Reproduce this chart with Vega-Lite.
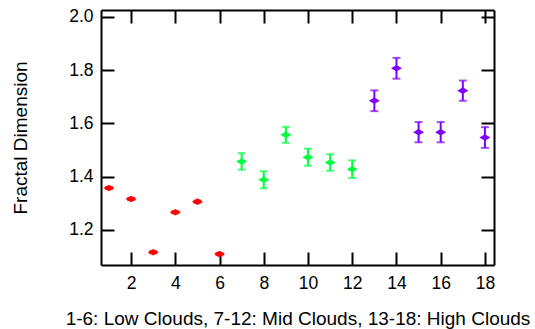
{
  "$schema": "https://vega.github.io/schema/vega-lite/v6.json",
  "autosize": "none",
  "width": 393,
  "height": 255,
  "padding": {"left": 101, "top": 10, "right": 41, "bottom": 64},
  "background": "white",
  "config": {
    "view": {"stroke": null},
    "font": "Liberation Sans",
    "axis": {
      "domainColor": "black", "domainWidth": 2, "tickColor": "black", "tickWidth": 2,
      "tickSize": -13, "grid": false, "labelFont": "Liberation Sans", "labelFontSize": 17.5,
      "labelColor": "black", "titleFont": "Liberation Sans", "titleFontSize": 19,
      "titleFontWeight": "normal", "titleColor": "black"
    }
  },
  "data": {"values": [
    {"cloud": 1, "fd": 1.357, "lo": 1.353, "hi": 1.361, "type": "Low"},
    {"cloud": 2, "fd": 1.316, "lo": 1.312, "hi": 1.320, "type": "Low"},
    {"cloud": 3, "fd": 1.116, "lo": 1.112, "hi": 1.120, "type": "Low"},
    {"cloud": 4, "fd": 1.266, "lo": 1.262, "hi": 1.270, "type": "Low"},
    {"cloud": 5, "fd": 1.306, "lo": 1.302, "hi": 1.310, "type": "Low"},
    {"cloud": 6, "fd": 1.109, "lo": 1.105, "hi": 1.113, "type": "Low"},
    {"cloud": 7, "fd": 1.457, "lo": 1.426, "hi": 1.488, "type": "Mid"},
    {"cloud": 8, "fd": 1.388, "lo": 1.356, "hi": 1.420, "type": "Mid"},
    {"cloud": 9, "fd": 1.557, "lo": 1.527, "hi": 1.587, "type": "Mid"},
    {"cloud": 10, "fd": 1.473, "lo": 1.441, "hi": 1.505, "type": "Mid"},
    {"cloud": 11, "fd": 1.453, "lo": 1.422, "hi": 1.484, "type": "Mid"},
    {"cloud": 12, "fd": 1.428, "lo": 1.395, "hi": 1.461, "type": "Mid"},
    {"cloud": 13, "fd": 1.685, "lo": 1.646, "hi": 1.724, "type": "High"},
    {"cloud": 14, "fd": 1.807, "lo": 1.768, "hi": 1.846, "type": "High"},
    {"cloud": 15, "fd": 1.567, "lo": 1.529, "hi": 1.605, "type": "High"},
    {"cloud": 16, "fd": 1.567, "lo": 1.529, "hi": 1.605, "type": "High"},
    {"cloud": 17, "fd": 1.723, "lo": 1.685, "hi": 1.761, "type": "High"},
    {"cloud": 18, "fd": 1.547, "lo": 1.508, "hi": 1.586, "type": "High"}
  ]},
  "resolve": {"axis": {"x": "independent", "y": "independent"}},
  "layer": [
    {
      "mark": {"type": "errorbar", "ticks": {"size": 8, "thickness": 2}, "rule": {"strokeWidth": 2}},
      "encoding": {
        "x": {"field": "cloud", "type": "quantitative",
              "scale": {"domain": [0.64, 18.41], "nice": false, "zero": false},
              "axis": {"values": [2,4,6,8,10,12,14,16,18], "labelPadding": 22,
                       "title": "1-6: Low Clouds, 7-12: Mid Clouds, 13-18: High Clouds",
                       "titleY": 59, "titleBaseline": "alphabetic"}},
        "y": {"field": "lo", "type": "quantitative",
              "scale": {"domain": [1.068, 2.026], "nice": false, "zero": false},
              "axis": {"values": [1.2,1.4,1.6,1.8,2.0], "format": ".1f", "labelPadding": 21,
                       "title": "Fractal Dimension", "titleX": -81, "titleBaseline": "middle"}},
        "y2": {"field": "hi"},
        "color": {"field": "type", "type": "nominal",
                  "scale": {"domain": ["Low", "Mid", "High"], "range": ["#ff0000", "#00ff40", "#8000ff"]},
                  "legend": null}
      }
    },
    {
      "mark": {"type": "point", "filled": true, "opacity": 1, "size": 121,
               "shape": "M-1,0L0,-0.6L1,0L0,0.6Z"},
      "encoding": {
        "x": {"field": "cloud", "type": "quantitative", "axis": null},
        "y": {"field": "fd", "type": "quantitative", "axis": null},
        "color": {"field": "type", "type": "nominal", "legend": null}
      }
    },
    {
      "mark": {"type": "point", "opacity": 0},
      "encoding": {
        "x": {"field": "cloud", "type": "quantitative",
              "axis": {"orient": "top", "values": [2,4,6,8,10,12,14,16,18], "labels": false, "title": null}},
        "y": {"field": "fd", "type": "quantitative",
              "axis": {"orient": "right", "values": [1.2,1.4,1.6,1.8,2.0], "labels": false, "title": null}}
      }
    }
  ]
}
